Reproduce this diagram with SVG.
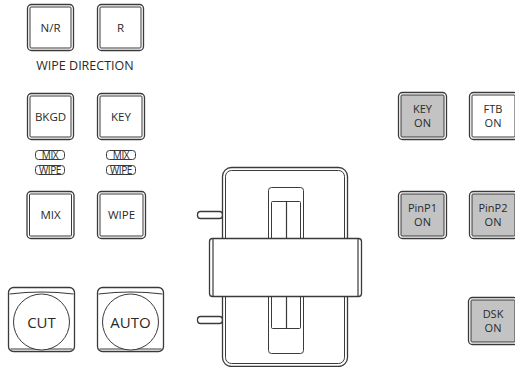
<svg xmlns="http://www.w3.org/2000/svg" width="515" height="367" viewBox="0 0 515 367">
<style>
.o{fill:#fff;stroke:#3a3a3a;stroke-width:1.3}
.i{fill:#fff;stroke:#3a3a3a;stroke-width:1}
.g{fill:#c3c3c3;stroke:#3a3a3a;stroke-width:1}
.l{fill:none;stroke:#3a3a3a;stroke-width:1.2}
.t{font-family:"Open Sans","Noto Sans",sans-serif;font-size:11.5px;fill:#2a2a2a;text-anchor:middle}
.t2{font-size:11px}
.big{font-size:15px}
.lab{font-size:12.5px}
.sm{font-size:10px;letter-spacing:-0.4px}
.tag{fill:none;stroke:#3a3a3a;stroke-width:1}
</style>
<rect width="515" height="367" fill="#fff"/>
<g id="btn-nr">
<rect class="o" x="27.5" y="4.5" width="46" height="46" rx="4"/>
<rect class="i" x="30" y="7" width="41" height="41" rx="1"/>
<text class="t" x="50.5" y="32">N/R</text>
</g>
<g id="btn-r">
<rect class="o" x="97.5" y="4.5" width="46" height="46" rx="4"/>
<rect class="i" x="100" y="7" width="41" height="41" rx="1"/>
<text class="t" x="120.5" y="32">R</text>
</g>
<text class="t lab" x="85" y="70">WIPE DIRECTION</text>
<g id="btn-bkgd">
<rect class="o" x="27.5" y="93.5" width="46" height="46" rx="4"/>
<rect class="i" x="30" y="96" width="41" height="41" rx="1"/>
<text class="t" x="50.5" y="121">BKGD</text>
</g>
<g id="btn-key">
<rect class="o" x="97.5" y="93.5" width="47" height="46" rx="4"/>
<rect class="i" x="100" y="96" width="42" height="41" rx="1"/>
<text class="t" x="121" y="121">KEY</text>
</g>
<g id="tag-bkgd">
<rect class="tag" x="35.5" y="150.5" width="29" height="9" rx="3"/>
<text class="t sm" x="50" y="158.5">MIX</text>
<rect class="tag" x="35.5" y="165.5" width="29" height="9" rx="3"/>
<text class="t sm" x="50" y="173.5">WIPE</text>
</g>
<g id="tag-key">
<rect class="tag" x="106.5" y="150.5" width="29" height="9" rx="3"/>
<text class="t sm" x="121" y="158.5">MIX</text>
<rect class="tag" x="106.5" y="165.5" width="29" height="9" rx="3"/>
<text class="t sm" x="121" y="173.5">WIPE</text>
</g>
<g id="btn-mix">
<rect class="o" x="27" y="191.5" width="47" height="47" rx="4"/>
<rect class="i" x="29.5" y="194" width="42" height="42" rx="1"/>
<text class="t" x="50.5" y="219">MIX</text>
</g>
<g id="btn-wipe">
<rect class="o" x="97.5" y="191.5" width="48" height="47" rx="4"/>
<rect class="i" x="100" y="194" width="43" height="42" rx="1"/>
<text class="t" x="121.5" y="219">WIPE</text>
</g>
<g id="btn-cut">
<rect class="o" x="8.5" y="287.5" width="66" height="64" rx="5"/>
<path class="l" d="M9.5,294 Q41.5,290 73.5,294" stroke-width="1"/>
<path class="l" d="M10.5,349 L72.5,349"/>
<circle class="i" cx="41.5" cy="322" r="28"/>
<text class="t big" x="41.5" y="327.5">CUT</text>
</g>
<g id="btn-auto">
<rect class="o" x="97.5" y="287.5" width="66" height="64" rx="5"/>
<path class="l" d="M98.5,294 Q130.5,290 162.5,294" stroke-width="1"/>
<path class="l" d="M99.5,349 L161.5,349"/>
<circle class="i" cx="130.5" cy="322" r="28"/>
<text class="t big" x="130.5" y="327.5">AUTO</text>
</g>
<g id="fader">
<rect class="o" x="197.5" y="211.5" width="25" height="7" rx="3"/>
<rect class="o" x="197.5" y="316.5" width="25" height="7" rx="3"/>
<rect class="o" x="222.5" y="167.5" width="125" height="199" rx="9"/>
<rect class="i" x="225.5" y="170.5" width="119" height="193" rx="6"/>
<rect class="i" x="268.5" y="187.5" width="35" height="166" rx="3"/>
<rect class="i" x="271.5" y="201.5" width="29" height="127" rx="1"/>
<line class="l" x1="286.5" y1="201.5" x2="286.5" y2="328.5" stroke-width="1"/>
<rect class="o" x="209.5" y="238.5" width="152" height="58" rx="3"/>
<line class="l" x1="213" y1="238.5" x2="213" y2="296.5" stroke-width="1"/>
<line class="l" x1="358" y1="238.5" x2="358" y2="296.5" stroke-width="1"/>
</g>
<g id="btn-key-on">
<rect class="o" x="398.5" y="92.5" width="48" height="47" rx="4"/>
<rect class="g" x="401" y="95" width="43" height="42" rx="1"/>
<text class="t t2" x="422.5" y="112.5">KEY</text>
<text class="t t2" x="422.5" y="126.5">ON</text>
</g>
<g id="btn-ftb-on">
<rect class="o" x="469.5" y="92.5" width="48" height="47" rx="4"/>
<rect class="i" x="472" y="95" width="43" height="42" rx="1"/>
<text class="t t2" x="493" y="112.5">FTB</text>
<text class="t t2" x="493" y="126.5">ON</text>
</g>
<g id="btn-pinp1-on">
<rect class="o" x="398.5" y="191.5" width="48" height="47" rx="4"/>
<rect class="g" x="401" y="194" width="43" height="42" rx="1"/>
<text class="t t2" x="422.5" y="211.5">PinP1</text>
<text class="t t2" x="422.5" y="225.5">ON</text>
</g>
<g id="btn-pinp2-on">
<rect class="o" x="469.5" y="191.5" width="48" height="47" rx="4"/>
<rect class="g" x="472" y="194" width="43" height="42" rx="1"/>
<text class="t t2" x="493" y="211.5">PinP2</text>
<text class="t t2" x="493" y="225.5">ON</text>
</g>
<g id="btn-dsk-on">
<rect class="o" x="468.5" y="297.5" width="49" height="47" rx="4"/>
<rect class="g" x="471" y="300" width="44" height="42" rx="1"/>
<text class="t t2" x="493" y="317.5">DSK</text>
<text class="t t2" x="493" y="331.5">ON</text>
</g>
</svg>
